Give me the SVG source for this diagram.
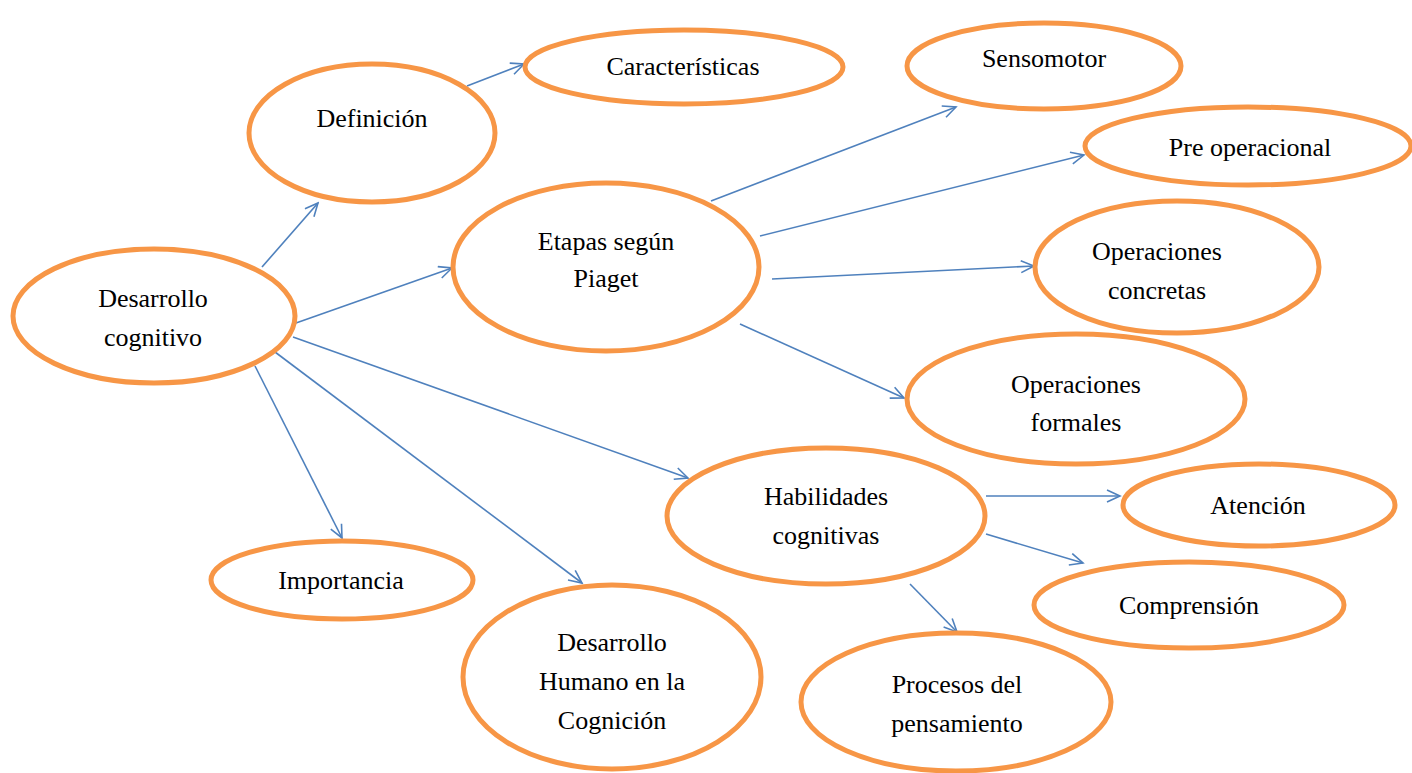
<svg xmlns="http://www.w3.org/2000/svg" width="1412" height="773" viewBox="0 0 1412 773">
<style>
.n ellipse{fill:#fff;stroke:#F79646;stroke-width:5}
.n text{font-size:26px;fill:#000;text-anchor:middle}
.c line{stroke:#4F81BD;stroke-width:1.6;fill:none;marker-end:url(#a)}
</style>
<defs>
<marker id="a" markerWidth="16" markerHeight="14" refX="14" refY="7" orient="auto" markerUnits="userSpaceOnUse">
<path d="M1,1 L14,7 L1,13" fill="none" stroke="#4F81BD" stroke-width="1.6"/>
</marker>
</defs>
<rect width="1412" height="773" fill="#fff"/>
<g class="c" id="connectors">
<line x1="262" y1="267" x2="318" y2="203"/>
<line x1="467" y1="86" x2="524" y2="64"/>
<line x1="296" y1="323" x2="452" y2="268"/>
<line x1="711" y1="201" x2="956" y2="107"/>
<line x1="760" y1="236" x2="1084" y2="155"/>
<line x1="772" y1="279" x2="1034" y2="266"/>
<line x1="740" y1="324" x2="904" y2="398"/>
<line x1="293" y1="337" x2="688" y2="478"/>
<line x1="255" y1="366" x2="342" y2="538"/>
<line x1="275" y1="352" x2="582" y2="583"/>
<line x1="986" y1="496" x2="1120" y2="496"/>
<line x1="986" y1="534" x2="1083" y2="563"/>
<line x1="910" y1="584" x2="957" y2="632"/>
</g>
<g font-family="'Liberation Serif', 'DejaVu Serif', serif">
<g class="n" id="n-dc"><ellipse cx="154" cy="316" rx="141" ry="67"/><text x="153" y="307">Desarrollo</text><text x="153" y="346">cognitivo</text></g>
<g class="n" id="n-def"><ellipse cx="372" cy="133" rx="123" ry="69"/><text x="372" y="127">Definición</text></g>
<g class="n" id="n-car"><ellipse cx="684" cy="67" rx="159" ry="37"/><text x="683" y="75">Características</text></g>
<g class="n" id="n-sen"><ellipse cx="1044" cy="66" rx="137" ry="43"/><text x="1044" y="67">Sensomotor</text></g>
<g class="n" id="n-pre"><ellipse cx="1248" cy="146" rx="163" ry="39"/><text x="1250" y="156">Pre operacional</text></g>
<g class="n" id="n-eta"><ellipse cx="606" cy="267" rx="153" ry="84"/><text x="606" y="250">Etapas según</text><text x="606" y="287">Piaget</text></g>
<g class="n" id="n-opc"><ellipse cx="1177" cy="267" rx="142" ry="66"/><text x="1157" y="260">Operaciones</text><text x="1157" y="299">concretas</text></g>
<g class="n" id="n-opf"><ellipse cx="1076" cy="399" rx="169" ry="65"/><text x="1076" y="393">Operaciones</text><text x="1076" y="431">formales</text></g>
<g class="n" id="n-hab"><ellipse cx="826" cy="516" rx="159" ry="68"/><text x="826" y="505">Habilidades</text><text x="826" y="544">cognitivas</text></g>
<g class="n" id="n-ate"><ellipse cx="1259" cy="505" rx="136" ry="41"/><text x="1258" y="514">Atención</text></g>
<g class="n" id="n-com"><ellipse cx="1189" cy="605" rx="155" ry="43"/><text x="1189" y="614">Comprensión</text></g>
<g class="n" id="n-imp"><ellipse cx="342" cy="580" rx="131" ry="39"/><text x="341" y="589">Importancia</text></g>
<g class="n" id="n-dh"><ellipse cx="612" cy="677" rx="149" ry="92"/><text x="612" y="651">Desarrollo</text><text x="612" y="690">Humano en la</text><text x="612" y="729">Cognición</text></g>
<g class="n" id="n-pro"><ellipse cx="956" cy="702" rx="155" ry="69"/><text x="957" y="693">Procesos del</text><text x="957" y="732">pensamiento</text></g>
</g>
</svg>
